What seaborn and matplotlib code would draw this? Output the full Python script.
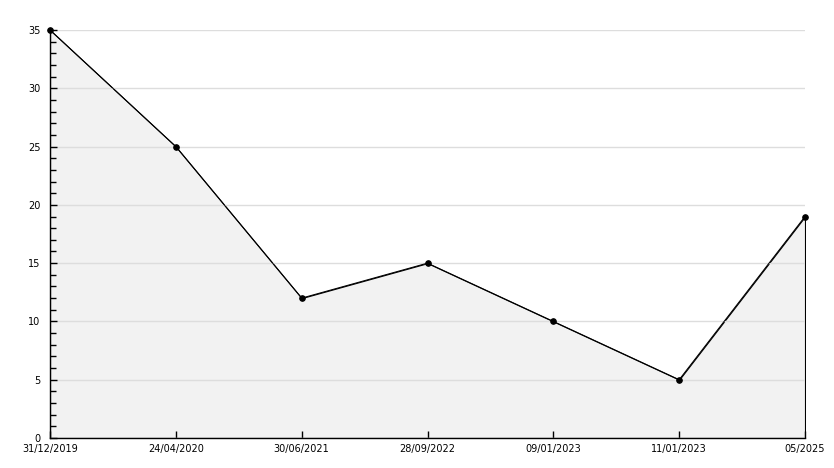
import matplotlib.pyplot as plt
from matplotlib.ticker import MultipleLocator
import seaborn as sns
import pandas as pd

dates = ["31/12/2019", "24/04/2020", "30/06/2021", "28/09/2022",
         "09/01/2023", "11/01/2023", "05/2025"]
values = [35, 25, 12, 15, 10, 5, 19]

df = pd.DataFrame({"pos": range(len(dates)), "value": values})

sns.set_style("white")
plt.rcParams['font.family'] = ['DejaVu Sans']

fig = plt.figure(figsize=(8.34, 4.68), dpi=100)
ax = fig.add_axes([50 / 834, 30 / 468, 755 / 834, 408 / 468])

ax.fill_between(df["pos"], df["value"], color="#f2f2f2",
                edgecolor="black", linewidth=0.8, zorder=1)
sns.lineplot(x="pos", y="value", data=df, ax=ax, color="black",
             linewidth=0.75, marker="o", markersize=4,
             markeredgecolor="black", zorder=3)
for ln in ax.lines:
    ln.set_clip_on(False)

ax.set_xlim(0, len(dates) - 1)
ax.set_ylim(0, 35)
ax.set_xticks(df["pos"])
ax.set_xticklabels(dates)
ax.yaxis.set_major_locator(MultipleLocator(5))
ax.yaxis.set_minor_locator(MultipleLocator(1))

ax.set_axisbelow('line')
ax.yaxis.grid(True, color="#dddddd", linewidth=1)
ax.xaxis.grid(False)

for s in ["top", "right"]:
    ax.spines[s].set_visible(False)
for s in ["left", "bottom"]:
    ax.spines[s].set_color("black")
    ax.spines[s].set_linewidth(1)

ax.tick_params(axis="both", which="major", direction="in", length=5,
               width=1, color="black", labelsize=7, labelcolor="black")
ax.tick_params(axis="y", which="minor", direction="in", length=4,
               width=1, color="black", left=True)
ax.tick_params(axis="y", which="major", pad=7, left=True)
ax.tick_params(axis="x", which="major", pad=4, bottom=True)

ax.set_xlabel("")
ax.set_ylabel("")

plt.savefig("out.png", dpi=100)
